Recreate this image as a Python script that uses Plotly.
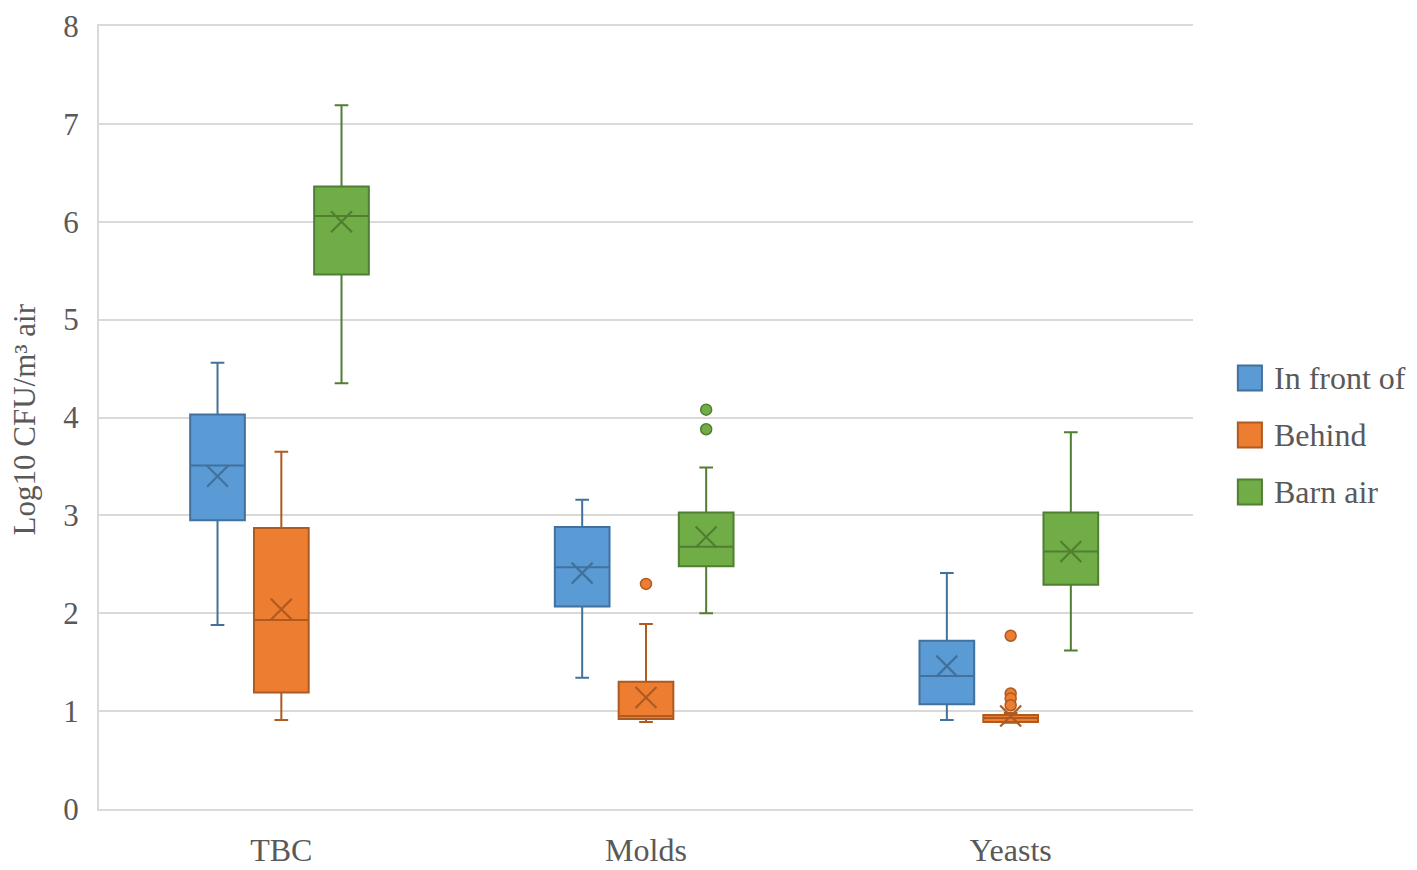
import plotly.graph_objects as go

# ---- data ----
categories = ["TBC", "Molds", "Yeasts"]
series = ["In front of", "Behind", "Barn air"]

front_q1 = [2.95, 2.07, 1.07]
front_median = [3.51, 2.47, 1.36]
front_q3 = [4.03, 2.88, 1.72]
front_low = [1.88, 1.34, 0.91]
front_high = [4.56, 3.16, 2.41]
front_mean = [3.40, 2.41, 1.46]

behind_q1 = [1.19, 0.92, 0.89]
behind_median = [1.93, 0.95, 0.93]
behind_q3 = [2.87, 1.30, 0.96]
behind_low = [0.91, 0.89, 0.88]
behind_high = [3.65, 1.89, 0.98]
behind_mean = [2.04, 1.14, 0.95]

barn_q1 = [5.46, 2.48, 2.29]
barn_median = [6.06, 2.68, 2.63]
barn_q3 = [6.36, 3.03, 3.03]
barn_low = [4.35, 2.00, 1.62]
barn_high = [7.19, 3.49, 3.85]
barn_mean = [6.00, 2.78, 2.63]

# outliers: (category index, value)
behind_out_cat = [1, 2, 2, 2, 2]
behind_out_val = [2.30, 1.77, 1.18, 1.13, 1.06]
barn_out_cat = [1, 1]
barn_out_val = [4.08, 3.88]

fills = ["#5B9BD5", "#ED7D31", "#70AD47"]
edges = ["#41719C", "#AE5A21", "#507E32"]
offsets = [-0.175, 0.0, 0.165]
box_w = 0.15

stats = [
    (front_q1, front_median, front_q3, front_low, front_high, front_mean, [], []),
    (behind_q1, behind_median, behind_q3, behind_low, behind_high, behind_mean, behind_out_cat, behind_out_val),
    (barn_q1, barn_median, barn_q3, barn_low, barn_high, barn_mean, barn_out_cat, barn_out_val),
]

fig = go.Figure()
for i, (q1, med, q3, lo, hi, mean, oc, ov) in enumerate(stats):
    xs = [c + offsets[i] for c in range(len(categories))]
    fig.add_trace(go.Box(
        x=xs, q1=q1, median=med, q3=q3, lowerfence=lo, upperfence=hi,
        name=series[i], width=box_w, whiskerwidth=0.25, showlegend=False,
        fillcolor=fills[i], line=dict(color=edges[i], width=2),
        boxpoints=False, hoverinfo="y",
    ))
    fig.add_trace(go.Scatter(
        x=xs, y=mean, mode="markers", showlegend=False,
        marker=dict(symbol="x-thin", size=21, line=dict(color=edges[i], width=2.2)),
    ))
    if ov:
        fig.add_trace(go.Scatter(
            x=[c + offsets[i] for c in oc], y=ov, mode="markers", showlegend=False,
            marker=dict(symbol="circle", size=11, color=fills[i],
                        line=dict(color=edges[i], width=1.5)),
        ))

font = "Liberation Serif"
grey = "#595959"

# legend drawn by hand so the swatches match the reference size
for i, name in enumerate(series):
    yc = 0.5504 - i * 0.0728
    fig.add_shape(type="rect", xref="paper", yref="paper",
                  x0=1.041, x1=1.063, y0=yc - 0.016, y1=yc + 0.016,
                  fillcolor=fills[i], line=dict(color=edges[i], width=2))
    fig.add_annotation(text=name, xref="paper", yref="paper", x=1.072, y=yc,
                       xanchor="left", yanchor="middle", showarrow=False,
                       font=dict(family=font, size=32, color=grey))

# y-axis title
fig.add_annotation(text="Log10 CFU/m³ air", xref="paper", yref="paper",
                   x=-0.068, y=0.497, textangle=-90, showarrow=False,
                   xanchor="center", yanchor="middle",
                   font=dict(family=font, size=31, color=grey))

fig.update_layout(
    width=1417, height=870,
    margin=dict(l=91, r=232, t=18, b=69),
    paper_bgcolor="white", plot_bgcolor="white",
    boxmode="overlay", showlegend=False,
    font=dict(family=font, size=32, color=grey),
    xaxis=dict(range=[-0.5, 2.5], tickvals=[0, 1, 2], ticktext=categories,
               tickfont=dict(family=font, size=32, color=grey),
               showgrid=False, zeroline=False, showline=True, mirror=True,
               linecolor="#D9D9D9", linewidth=2, ticks="", automargin=False,
               ticklabelstandoff=12),
    yaxis=dict(range=[0, 8], dtick=1, showgrid=True, gridcolor="#D9D9D9", gridwidth=2,
               tickfont=dict(family=font, size=31, color=grey),
               zeroline=False, showline=True, linecolor="#D9D9D9", linewidth=2,
               ticks="", automargin=False, ticklabelstandoff=12,
               ticklabeloverflow="allow"),
)

fig.write_html("out.html")
